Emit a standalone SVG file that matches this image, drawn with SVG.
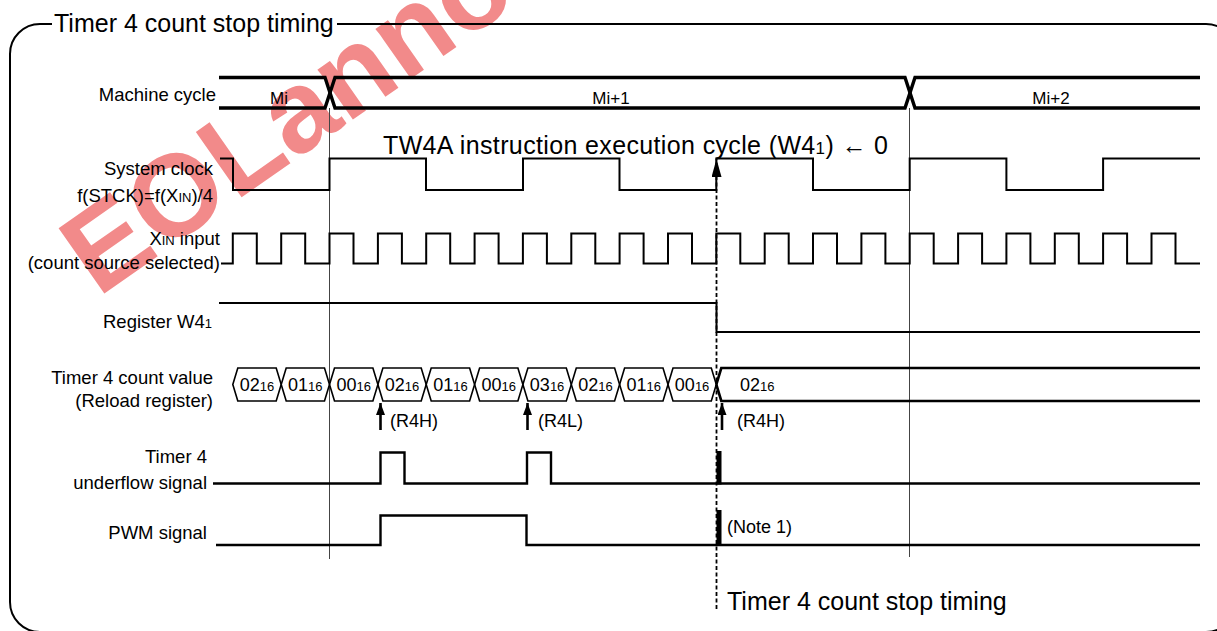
<svg xmlns="http://www.w3.org/2000/svg" width="1217" height="631" viewBox="0 0 1217 631">
<style>
text{font-family:"Liberation Sans",Arial,sans-serif;fill:#000}
.lbl{font-size:18.5px;text-anchor:end}
.big{font-size:25px}
.mi{font-size:17px;text-anchor:middle}
.hx{font-size:18px;text-anchor:middle}
.sm{font-size:13px}
.r4{font-size:18px}
.w{fill:none;stroke:#000;stroke-width:2}
.bus{fill:none;stroke:#000;stroke-width:3.4}
.hex{fill:none;stroke:#000;stroke-width:1.6}
.thin{stroke:#444;stroke-width:1;fill:none}
.wm{font-family:"Liberation Sans",Arial,sans-serif;font-weight:bold;font-size:116px;fill:#f28a8a}
</style>
<defs>
<marker id="ah" viewBox="0 0 18 10" refX="18" refY="5" markerWidth="18" markerHeight="10" markerUnits="userSpaceOnUse" orient="auto"><path d="M0,0 L18,5 L0,10 z" fill="#000"/></marker>
<marker id="ah2" viewBox="0 0 12 9" refX="12" refY="4.5" markerWidth="12" markerHeight="9" markerUnits="userSpaceOnUse" orient="auto"><path d="M0,0 L12,4.5 L0,9 z" fill="#000"/></marker>
</defs>
<rect width="1217" height="631" fill="#fff"/>
<text class="wm" transform="translate(98,298) rotate(-35)" word-spacing="-30">EOL announced</text>
<g id="frame">
<path class="w" d="M52,24 H40 A30 30 0 0 0 10,54 V602 A30 30 0 0 0 40,632 H1206 A30 30 0 0 0 1236,602 V54 A30 30 0 0 0 1206,24 H337"/>
<text class="big" x="54" y="31.5">Timer 4 count stop timing</text>
</g>
<g id="machine-cycle">
<text class="lbl" x="216" y="101">Machine cycle</text>
<path class="bus" d="M219,77.5 H325 L335,108 H905 L915,77.5 H1200"/>
<path class="bus" d="M219,108 H325 L335,77.5 H905 L915,108 H1200"/>
<text class="mi" x="279" y="103.5">Mi</text>
<text class="mi" x="611" y="103.5">Mi+1</text>
<text class="mi" x="1051" y="103.5">Mi+2</text>
</g>
<g id="cycle-marks">
<line class="thin" x1="329.5" y1="108" x2="329.5" y2="559"/>
<line class="thin" x1="909.5" y1="108" x2="909.5" y2="557"/>
</g>
<g id="instruction-note">
<text class="big" x="383" y="154" textLength="505" lengthAdjust="spacing">TW4A instruction execution cycle (W4<tspan font-size="17px">1</tspan>) ← 0</text>
</g>
<g id="system-clock">
<text class="lbl" x="213" y="175">System clock</text>
<text class="lbl" x="213" y="201.5">f(STCK)=f(X<tspan class="sm">IN</tspan>)/4</text>
<path class="w" d="M220,158.5 H233 V190 H329.5 V158.5 H426 V190 H523 V158.5 H619.5 V190 H716.3 V158.5 H813 V190 H909.7 V158.5 H1006.4 V190 H1103.1 V158.5 H1200"/>
</g>
<g id="xin-input">
<text class="lbl" x="220" y="245">X<tspan class="sm">IN</tspan> input</text>
<text class="lbl" x="220" y="268.5">(count source selected)</text>
<path class="w" d="M221,263.5 H232.8 V233.5 H256.8 V263.5 H281.2 V233.5 H305.2 V263.5 H329.5 V233.5 H353.5 V263.5 H377.9 V233.5 H401.9 V263.5 H426.2 V233.5 H450.2 V263.5 H474.6 V233.5 H498.6 V263.5 H522.9 V233.5 H546.9 V263.5 H571.3 V233.5 H595.3 V263.5 H619.6 V233.5 H643.6 V263.5 H668 V233.5 H692 V263.5 H716.3 V233.5 H740.3 V263.5 H764.7 V233.5 H788.7 V263.5 H813 V233.5 H837 V263.5 H861.4 V233.5 H885.4 V263.5 H909.7 V233.5 H933.7 V263.5 H958.1 V233.5 H982.1 V263.5 H1006.4 V233.5 H1030.4 V263.5 H1054.8 V233.5 H1078.8 V263.5 H1103.1 V233.5 H1127.1 V263.5 H1151.5 V233.5 H1175.5 V263.5 H1200"/>
</g>
<g id="register-w41">
<text class="lbl" x="212" y="328">Register W4<tspan class="sm">1</tspan></text>
<path class="w" d="M219,303 H716.5 V332 H1200"/>
</g>
<g id="timer4-count">
<text class="lbl" x="213" y="384">Timer 4 count value</text>
<text class="lbl" x="213" y="407">(Reload register)</text>
<path class="hex" d="M232.8,384.5 L237.8,368 H276.2 L281.2,384.5 L276.2,401 H237.8 Z"/>
<path class="hex" d="M281.2,384.5 L286.2,368 H324.5 L329.5,384.5 L324.5,401 H286.2 Z"/>
<path class="hex" d="M329.5,384.5 L334.5,368 H372.9 L377.9,384.5 L372.9,401 H334.5 Z"/>
<path class="hex" d="M377.9,384.5 L382.9,368 H421.2 L426.2,384.5 L421.2,401 H382.9 Z"/>
<path class="hex" d="M426.2,384.5 L431.2,368 H469.6 L474.6,384.5 L469.6,401 H431.2 Z"/>
<path class="hex" d="M474.6,384.5 L479.6,368 H517.9 L522.9,384.5 L517.9,401 H479.6 Z"/>
<path class="hex" d="M522.9,384.5 L527.9,368 H566.3 L571.3,384.5 L566.3,401 H527.9 Z"/>
<path class="hex" d="M571.3,384.5 L576.3,368 H614.6 L619.6,384.5 L614.6,401 H576.3 Z"/>
<path class="hex" d="M619.6,384.5 L624.6,368 H663 L668,384.5 L663,401 H624.6 Z"/>
<path class="hex" d="M668,384.5 L673,368 H711.3 L716.3,384.5 L711.3,401 H673 Z"/>
<path class="w" style="stroke-width:2.6" d="M716.3,384.5 L721.3,368 H1200 M716.3,384.5 L721.3,401 H1200"/>
<text class="hx" x="257" y="391">02<tspan class="sm">16</tspan></text>
<text class="hx" x="305.3" y="391">01<tspan class="sm">16</tspan></text>
<text class="hx" x="353.7" y="391">00<tspan class="sm">16</tspan></text>
<text class="hx" x="402" y="391">02<tspan class="sm">16</tspan></text>
<text class="hx" x="450.4" y="391">01<tspan class="sm">16</tspan></text>
<text class="hx" x="498.7" y="391">00<tspan class="sm">16</tspan></text>
<text class="hx" x="547.1" y="391">03<tspan class="sm">16</tspan></text>
<text class="hx" x="595.4" y="391">02<tspan class="sm">16</tspan></text>
<text class="hx" x="643.8" y="391">01<tspan class="sm">16</tspan></text>
<text class="hx" x="692.1" y="391">00<tspan class="sm">16</tspan></text>
<text class="hx" x="740" y="391" style="text-anchor:start">02<tspan class="sm">16</tspan></text>
<text class="r4" x="390" y="427">(R4H)</text>
<text class="r4" x="538" y="427">(R4L)</text>
<text class="r4" x="737" y="427">(R4H)</text>
</g>
<g id="underflow">
<text class="lbl" x="207" y="463">Timer 4</text>
<text class="lbl" x="207" y="489">underflow signal</text>
<path class="w" style="stroke-width:2.4" d="M213,483.5 H380.5 V452.5 H404.5 V483.5 H527 V452.5 H551 V483.5 H1200"/>
<rect x="716.5" y="451" width="5" height="33.5" fill="#000"/>
</g>
<g id="pwm">
<text class="lbl" x="207" y="539">PWM signal</text>
<path class="w" style="stroke-width:2.4" d="M216,545 H380.5 V515.5 H526.5 V545 H1200"/>
<rect x="716.5" y="510" width="5" height="36" fill="#000"/>
<text class="r4" x="727" y="533">(Note 1)</text>
</g>
<g id="connectors">
<line x1="716.5" y1="609" x2="716.5" y2="159" stroke="#000" stroke-width="1.8" stroke-dasharray="4 2.5" marker-end="url(#ah)"/>
<line x1="380.5" y1="430" x2="380.5" y2="403" stroke="#000" stroke-width="2.6" marker-end="url(#ah2)"/>
<line x1="527.5" y1="430" x2="527.5" y2="403" stroke="#000" stroke-width="2.6" marker-end="url(#ah2)"/>
<line x1="722" y1="430" x2="722" y2="403" stroke="#000" stroke-width="2.6" marker-end="url(#ah2)"/>
</g>
<g id="stop-label">
<text class="big" x="727" y="610">Timer 4 count stop timing</text>
</g>
</svg>
